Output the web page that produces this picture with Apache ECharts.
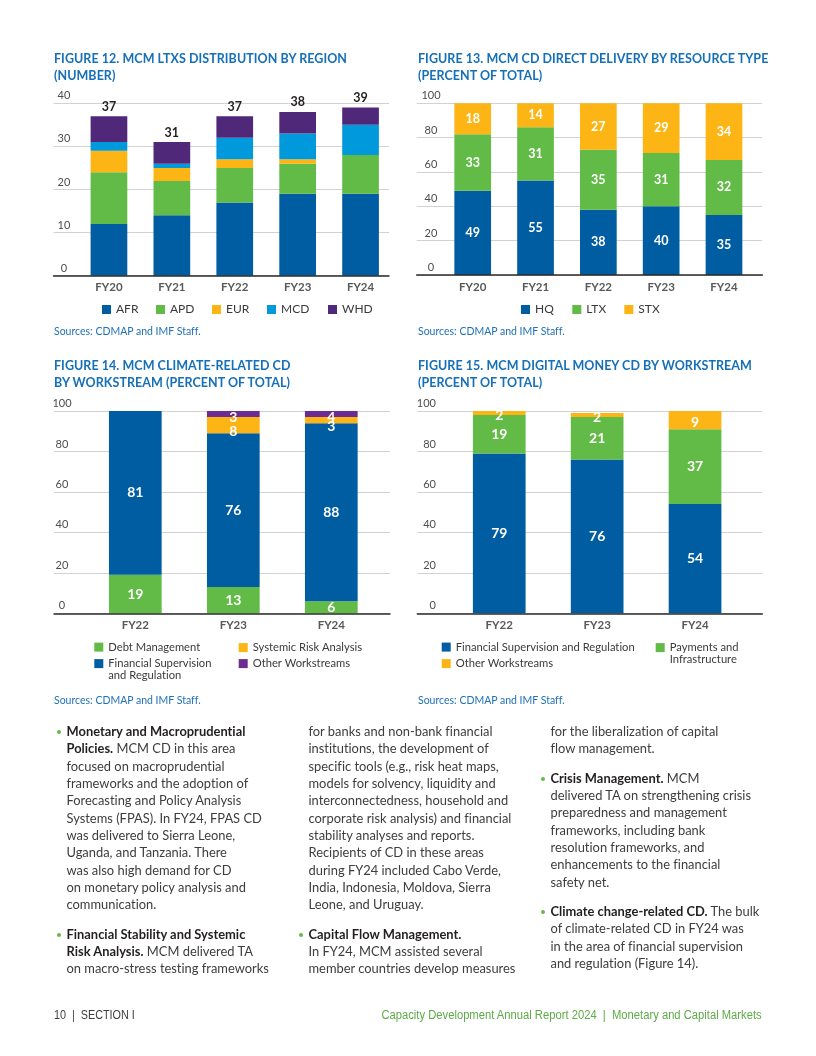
<!DOCTYPE html>
<html><head><meta charset="utf-8">
<script src="https://cdn.jsdelivr.net/npm/echarts@6/dist/echarts.min.js"></script>
<style>
html,body{margin:0;padding:0;background:#fff;}
#page{position:relative;width:816px;height:1056px;overflow:hidden;font-family:Lato,'Noto Sans',sans-serif;background:#fff;font-variant-ligatures:none;}
#chart{position:absolute;left:0;top:0;width:816px;height:1056px;}
.t{position:absolute;color:#1570b8;font-weight:700;font-size:12.5px;letter-spacing:0.05px;line-height:17.4px;white-space:nowrap;z-index:2;}
.src{position:absolute;color:#1f70b6;font-size:10.5px;line-height:12px;white-space:nowrap;z-index:2;}
.col{position:absolute;top:723px;font-size:12.9px;line-height:17.33px;color:#3d3d3f;white-space:nowrap;z-index:2;}
.col b{color:#231f20;font-weight:700;}
.p{position:relative;}
.gap{margin-top:12px;}
.bl:before{content:'';position:absolute;left:-10px;top:7px;width:4px;height:4px;border-radius:50%;background:#62bb46;}
.foot{position:absolute;top:1007px;font-family:'Liberation Sans',sans-serif;font-size:12px;line-height:16px;white-space:nowrap;z-index:2;}
</style></head>
<body><div id="page">
<div id="chart"></div>
<div class="t" style="left:54px;top:49.5px;">FIGURE 12. MCM LTXS DISTRIBUTION BY REGION<br>(NUMBER)</div>
<div class="t" style="left:418px;top:49.5px;">FIGURE 13. MCM CD DIRECT DELIVERY BY RESOURCE TYPE<br>(PERCENT OF TOTAL)</div>
<div class="t" style="left:54px;top:356.5px;">FIGURE 14. MCM CLIMATE-RELATED CD<br>BY WORKSTREAM (PERCENT OF TOTAL)</div>
<div class="t" style="left:418px;top:356.5px;">FIGURE 15. MCM DIGITAL MONEY CD BY WORKSTREAM<br>(PERCENT OF TOTAL)</div>
<div class="src" style="left:54px;top:325px;">Sources: CDMAP and IMF Staff.</div>
<div class="src" style="left:418px;top:325px;">Sources: CDMAP and IMF Staff.</div>
<div class="src" style="left:54px;top:694px;">Sources: CDMAP and IMF Staff.</div>
<div class="src" style="left:418px;top:694px;">Sources: CDMAP and IMF Staff.</div>

<div class="col" style="left:66.5px;">
<div class="p bl"><b>Monetary and Macroprudential<br>Policies.</b> MCM CD in this area<br>focused on macroprudential<br>frameworks and the adoption of<br>Forecasting and Policy Analysis<br>Systems (FPAS). In FY24, FPAS CD<br>was delivered to Sierra Leone,<br>Uganda, and Tanzania. There<br>was also high demand for CD<br>on monetary policy analysis and<br>communication.</div>
<div class="p bl gap"><b>Financial Stability and Systemic<br>Risk Analysis.</b> MCM delivered TA<br>on macro-stress testing frameworks</div>
</div>
<div class="col" style="left:308.5px;">
<div class="p">for banks and non-bank financial<br>institutions, the development of<br>specific tools (e.g., risk heat maps,<br>models for solvency, liquidity and<br>interconnectedness, household and<br>corporate risk analysis) and financial<br>stability analyses and reports.<br>Recipients of CD in these areas<br>during FY24 included Cabo Verde,<br>India, Indonesia, Moldova, Sierra<br>Leone, and Uruguay.</div>
<div class="p bl gap"><b>Capital Flow Management.</b><br>In FY24, MCM assisted several<br>member countries develop measures</div>
</div>
<div class="col" style="left:550.5px;">
<div class="p">for the liberalization of capital<br>flow management.</div>
<div class="p bl gap"><b>Crisis Management.</b> MCM<br>delivered TA on strengthening crisis<br>preparedness and management<br>frameworks, including bank<br>resolution frameworks, and<br>enhancements to the financial<br>safety net.</div>
<div class="p bl gap"><b>Climate change-related CD.</b> The bulk<br>of climate-related CD in FY24 was<br>in the area of financial supervision<br>and regulation (Figure 14).</div>
</div>
<div class="foot" style="left:54px;color:#3d3d3f;transform:scaleX(0.9);transform-origin:left center;">10 &nbsp;|&nbsp; SECTION I</div>
<div class="foot" style="right:54px;color:#5cab46;transform:scaleX(0.935);transform-origin:right center;">Capacity Development Annual Report 2024 &nbsp;|&nbsp; Monetary and Capital Markets</div>
</div>
<script>
// ---------- DATA ----------
const fig12Categories = ['FY20','FY21','FY22','FY23','FY24'];
const fig12AFR = [12,14,17,19,19];
const fig12APD = [12,8,8,7,9];
const fig12EUR = [5,3,2,1,0];
const fig12MCD = [2,1,5,6,7];
const fig12WHD = [6,5,5,5,4];

const fig13Categories = ['FY20','FY21','FY22','FY23','FY24'];
const fig13HQ = [49,55,38,40,35];
const fig13LTX = [33,31,35,31,32];
const fig13STX = [18,14,27,29,34];

const fig14Categories = ['FY22','FY23','FY24'];
const fig14Debt = [19,13,6];
const fig14FSR = [81,76,88];
const fig14SRA = [0,8,3];
const fig14Other = [0,3,4];

const fig15Categories = ['FY22','FY23','FY24'];
const fig15FSR = [79,76,54];
const fig15Pay = [19,21,37];
const fig15Other = [2,2,9];

// ---------- STYLE ----------
const C = {blue:'#005da2', green:'#62bb46', yellow:'#fdb515', lblue:'#0099dc', purple:'#50287a', purple2:'#6c2c91'};
const FONT = 'Lato';
const LG_FS = 11.2;
const fig12Totals = fig12Categories.map((_, i) => fig12AFR[i] + fig12APD[i] + fig12EUR[i] + fig12MCD[i] + fig12WHD[i]);

const grids = [
  {left:77.5, top:103.3, width:314.5, height:172.4},
  {left:53.5, top:103.3, width:335.5, height:172.4},
  {left:441.3, top:103.3, width:314.1, height:171.7},
  {left:416.7, top:103.3, width:345.6, height:171.7},
  {left:86.3, top:411, width:294, height:202.3},
  {left:54, top:411, width:336, height:202.3},
  {left:450.3, top:411, width:293.7, height:202.3},
  {left:417.3, top:411, width:345, height:202.3}
];

function catAxis(gi, cats) {
  return {type:'category', gridIndex:gi, data:cats, boundaryGap:true,
    axisLine:{show:false}, axisTick:{show:false}, splitLine:{show:false},
    axisLabel:{margin:6, color:'#58595b', fontWeight:'bold', fontSize:11.5, fontFamily:FONT}};
}
function frameX(gi) {
  return {type:'value', gridIndex:gi, min:0, max:1, z:10,
    axisLine:{show:true, onZero:false, lineStyle:{color:'#2b2b2b', width:1.5}},
    axisTick:{show:false}, axisLabel:{show:false}, splitLine:{show:false}};
}
function hidY(gi, max) {
  return {type:'value', gridIndex:gi, min:0, max:max, show:false, splitLine:{show:false}};
}
function frameY(gi, max, interval, margin, align) {
  return {type:'value', gridIndex:gi, min:0, max:max, interval:interval,
    axisLine:{show:false}, axisTick:{show:false},
    splitLine:{show:true, lineStyle:{color:'#d2d2d2', width:1}},
    axisLabel:{inside:true, margin:margin, align:align, verticalAlign:'bottom', padding:[0,0,2,0],
      color:'#4d4d4f', fontSize:11, fontFamily:FONT}};
}
function bar(name, data, color, gi, bw, lbl, extra) {
  const s = {type:'bar', name:name, data:data, stack:'s'+gi, xAxisIndex:gi, yAxisIndex:gi,
    barWidth:bw, itemStyle:{color:color}, emphasis:{disabled:true}, clip:true,
    label:{show:false}};
  if (lbl) {
    s.label = Object.assign({show:true, position:'inside', color:'#fff', fontWeight:'bold',
      fontSize:lbl, fontFamily:FONT, formatter:p => (p.value ? String(p.value) : '')}, extra || {});
  }
  return s;
}
function lg(name, left, top, color, fontSize, text) {
  return {data:[{name:name, itemStyle:{color:color}}], left:left, top:top, padding:0,
    itemWidth:9, itemHeight:9, icon:'rect', selectedMode:false,
    formatter: text ? (() => text) : undefined,
    textStyle:{fontSize:fontSize, color:'#3a3a3c', fontFamily:FONT, lineHeight:fontSize}};
}
function gtext(text, left, cy) {
  return {type:'text', left:left, top:cy - 6.5, z:100,
    style:{text:text, fontSize:LG_FS, fill:'#3a3a3c', fontFamily:FONT}};
}

const series = [
  bar('AFR', fig12AFR, C.blue, 0, 36.7),
  bar('APD', fig12APD, C.green, 0, 36.7),
  bar('EUR', fig12EUR, C.yellow, 0, 36.7),
  bar('MCD', fig12MCD, C.lblue, 0, 36.7),
  Object.assign(bar('WHD', fig12WHD, C.purple, 0, 36.7), {
    label:{show:true, position:'top', distance:3, color:'#231f20', fontWeight:'bold', fontSize:12.5, fontFamily:FONT,
      formatter:p => String(fig12Totals[p.dataIndex])}}),
  bar('HQ', fig13HQ, C.blue, 2, 36.7, 12.5),
  bar('LTX', fig13LTX, C.green, 2, 36.7, 12.5),
  bar('STX', fig13STX, C.yellow, 2, 36.7, 12.5),
  bar('Debt Management', fig14Debt, C.green, 4, 52.7, 14),
  bar('Financial Supervision and Regulation', fig14FSR, C.blue, 4, 52.7, 14),
  bar('Systemic Risk Analysis', fig14SRA, C.yellow, 4, 52.7, 14, {offset:[0,6]}),
  bar('Other Workstreams', fig14Other, C.purple2, 4, 52.7, 14, {offset:[0,3]}),
  bar('Financial Supervision and Regulation\u200b', fig15FSR, C.blue, 6, 52.7, 14),
  bar('Payments and Infrastructure', fig15Pay, C.green, 6, 52.7, 14),
  bar('Other Workstreams\u200b', fig15Other, C.yellow, 6, 52.7, 14, {offset:[0,2]})
];

const legends = [
  lg('AFR', 102, 303.5, C.blue, 12),
  lg('APD', 156, 303.5, C.green, 12),
  lg('EUR', 212, 303.5, C.yellow, 12),
  lg('MCD', 267, 303.5, C.lblue, 12),
  lg('WHD', 328, 303.5, C.purple, 12),
  lg('HQ', 521, 303.5, C.blue, 12),
  lg('LTX', 572.3, 303.5, C.green, 12),
  lg('STX', 624.3, 303.5, C.yellow, 12),
  lg('Debt Management', 94.3, 641.5, C.green, LG_FS),
  lg('Financial Supervision and Regulation', 94.3, 658, C.blue, LG_FS, 'Financial Supervision'),
  lg('Systemic Risk Analysis', 238.7, 642, C.yellow, LG_FS),
  lg('Other Workstreams', 238.7, 658, C.purple2, LG_FS),
  lg('Financial Supervision and Regulation\u200b', 441.7, 641.5, C.blue, LG_FS, 'Financial Supervision and Regulation'),
  lg('Other Workstreams\u200b', 441.7, 658, C.yellow, LG_FS, 'Other Workstreams'),
  lg('Payments and Infrastructure', 655.7, 642, C.green, LG_FS, 'Payments and')
];

const option = {
  animation:false,
  backgroundColor:'transparent',
  grid:grids,
  xAxis:[catAxis(0, fig12Categories), frameX(1), catAxis(2, fig13Categories), frameX(3),
         catAxis(4, fig14Categories), frameX(5), catAxis(6, fig15Categories), frameX(7)],
  yAxis:[hidY(0,40), frameY(1,40,10,10.5,'center'), hidY(2,100), frameY(3,100,20,14.3,'center'),
         hidY(4,100), frameY(5,100,20,8,'center'), hidY(6,100), frameY(7,100,20,18.7,'right')],
  legend:legends,
  graphic:[gtext('and Regulation', 108.3, 676.3), gtext('Infrastructure', 669.7, 660)],
  series:series
};
const chart = echarts.init(document.getElementById('chart'), null, {renderer:'canvas'});
chart.setOption(option);
</script>
</body></html>
